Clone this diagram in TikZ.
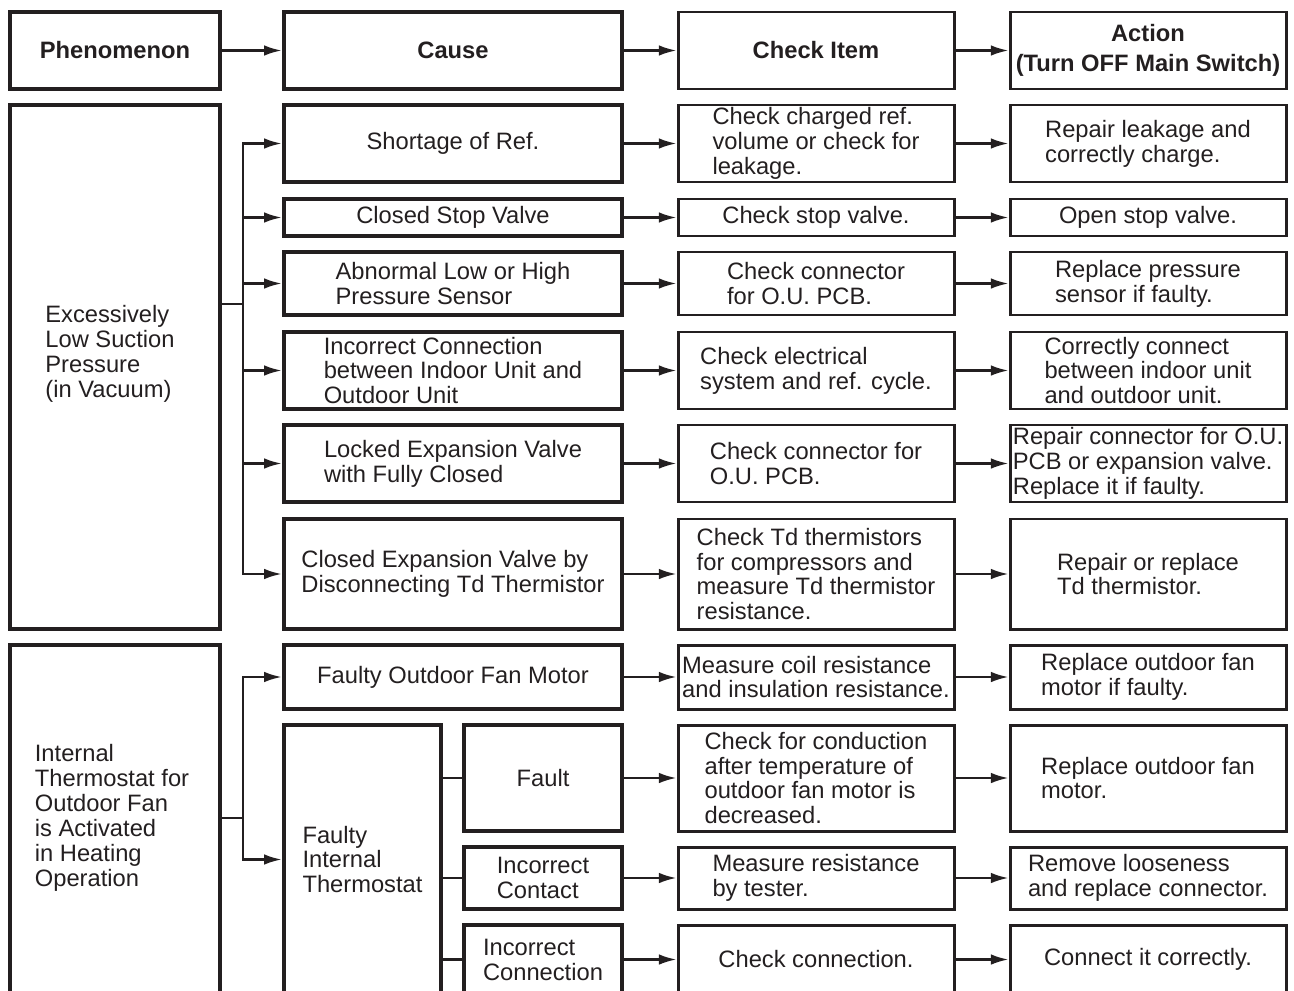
\documentclass[tikz,border=0pt]{standalone}
\usepackage{fontspec}
\setmainfont{Liberation Sans}
\usetikzlibrary{arrows.meta}
\definecolor{ink}{HTML}{231F20}
% box from its outer pixel corners: style, name, x1, y1, x2, y2, text
\newcommand{\cell}[7]{%
  \pgfmathsetmacro{\cellx}{(#3+#5)/2}%
  \pgfmathsetmacro{\celly}{(#4+#6)/2}%
  \pgfmathsetmacro{\cellw}{(#5-#3-4)*0.02}%
  \pgfmathsetmacro{\cellh}{(#6-#4-4)*0.02}%
  \node[#1,minimum width=\cellw cm,minimum height=\cellh cm] (#2) at (\cellx,\celly) {#7};%
}

\begin{document}
\begin{tikzpicture}[x=0.02cm,y=-0.02cm,>={Latex[length=10pt,width=6pt]},
  every node/.style={font=\fontsize{13.5}{14.2}\selectfont,text=ink,align=left,inner sep=0pt},
  heavy/.style={draw=ink,line width=2.6pt},
  light/.style={draw=ink,line width=1.7pt},
  link/.style={draw=ink,line width=1.3pt},
  arr/.style={link,->}]
  \useasboundingbox (0,0) rectangle (1294,990);
  % header row
  \cell{heavy}{hp}{8}{10}{222}{91}{\textbf{Phenomenon}}
  \cell{heavy}{hc}{282}{10}{624}{91}{\textbf{Cause}}
  \cell{light}{hk}{676}{10}{956}{91}{\textbf{Check Item}}
  \cell{light,align=center}{ha}{1008}{10}{1288}{91}{\textbf{Action}\\[2.5pt]\textbf{(Turn OFF Main Switch)}}
  \draw[arr] (hp.east) -- (hc.west);
  \draw[arr] (hc.east) -- (hk.west);
  \draw[arr] (hk.east) -- (ha.west);
  % phenomena
  \cell{heavy}{p1}{8}{103}{222}{631}{}
  \node (p1t) at (110,354) {Excessively\\Low Suction\\Pressure\\(in Vacuum)};
  \cell{heavy}{p2}{8}{643}{222}{996}{}
  \node (p2t) at (112,818) {Internal\\Thermostat for\\Outdoor Fan\\is Activated\\in Heating\\Operation};
  % causes
  \cell{heavy}{c1}{282}{103}{624}{184}{Shortage of Ref.}
  \cell{heavy}{c2}{282}{197}{624}{238}{Closed Stop Valve}
  \cell{heavy}{c3}{282}{250}{624}{317}{Abnormal Low or High\\Pressure Sensor}
  \cell{heavy}{c4}{282}{330}{624}{411}{Incorrect Connection\\between Indoor Unit and\\Outdoor Unit}
  \cell{heavy}{c5}{282}{423}{624}{504}{Locked Expansion Valve\\with Fully Closed}
  \cell{heavy}{c6}{282}{517}{624}{631}{Closed Expansion Valve by\\Disconnecting Td Thermistor}
  \cell{heavy}{c7}{282}{643}{624}{711}{Faulty Outdoor Fan Motor}
  \cell{heavy}{c8}{282}{723}{443}{996}{Faulty\\Internal\\Thermostat}
  \cell{heavy}{s1}{462}{723}{624}{833}{Fault}
  \cell{heavy}{s2}{462}{845}{624}{911}{Incorrect\\Contact}
  \cell{heavy}{s3}{462}{923}{624}{996}{Incorrect\\Connection}
  % check items
  \cell{light}{k1}{676}{103}{956}{184}{Check charged ref.\\volume or check for\\leakage.}
  \cell{light}{k2}{676}{197}{956}{238}{Check stop valve.}
  \cell{light}{k3}{676}{250}{956}{317}{Check connector\\for O.U. PCB.}
  \cell{light}{k4}{676}{330}{956}{411}{Check electrical\\system and ref. cycle.}
  \cell{light}{k5}{676}{423}{956}{504}{Check connector for\\O.U. PCB.}
  \cell{light}{k6}{676}{517}{956}{631}{Check Td thermistors\\for compressors and\\measure Td thermistor\\resistance.}
  \cell{light}{k7}{676}{643}{956}{711}{Measure coil resistance\\and insulation resistance.}
  \cell{light}{k8}{676}{723}{956}{833}{Check for conduction\\after temperature of\\outdoor fan motor is\\decreased.}
  \cell{light}{k9}{676}{845}{956}{911}{Measure resistance\\by tester.}
  \cell{light}{k10}{676}{923}{956}{996}{Check connection.}
  % actions
  \cell{light}{a1}{1008}{103}{1288}{184}{Repair leakage and\\correctly charge.}
  \cell{light}{a2}{1008}{197}{1288}{238}{Open stop valve.}
  \cell{light}{a3}{1008}{250}{1288}{317}{Replace pressure\\sensor if faulty.}
  \cell{light}{a4}{1008}{330}{1288}{411}{Correctly connect\\between indoor unit\\and outdoor unit.}
  \cell{light}{a5}{1008}{423}{1288}{504}{Repair connector for O.U.\\PCB or expansion valve.\\Replace it if faulty.}
  \cell{light}{a6}{1008}{517}{1288}{631}{Repair or replace\\Td thermistor.}
  \cell{light}{a7}{1008}{643}{1288}{711}{Replace outdoor fan\\motor if faulty.}
  \cell{light}{a8}{1008}{723}{1288}{833}{Replace outdoor fan\\motor.}
  \cell{light}{a9}{1008}{845}{1288}{911}{Remove looseness\\and replace connector.}
  \cell{light}{a10}{1008}{923}{1288}{996}{Connect it correctly.}
  % branching from the first phenomenon
  \coordinate (b1) at (243,304);
  \draw[link] (p1.east |- b1) -- (b1);
  \draw[arr] (b1) |- (c1.west);
  \draw[arr] (b1) |- (c6.west);
  \foreach \i in {2,...,5}
    \draw[arr] (b1 |- c\i.west) -- (c\i.west);
  % branching from the second phenomenon
  \coordinate (b2) at (243,818);
  \draw[link] (p2.east |- b2) -- (b2);
  \draw[arr] (b2) |- (c7.west);
  \draw[arr] (b2) |- (c8.west);
  % thermostat sub-causes
  \foreach \i in {1,2,3}
    \draw[link] (c8.east |- s\i.west) -- (s\i.west);
  % cause -> check -> action
  \foreach \i in {1,...,7}
    \draw[arr] (c\i.east) -- (k\i.west);
  \draw[arr] (s1.east) -- (k8.west);
  \draw[arr] (s2.east) -- (k9.west);
  \draw[arr] (s3.east) -- (k10.west);
  \foreach \i in {1,...,10}
    \draw[arr] (k\i.east) -- (a\i.west);
\end{tikzpicture}
\end{document}
